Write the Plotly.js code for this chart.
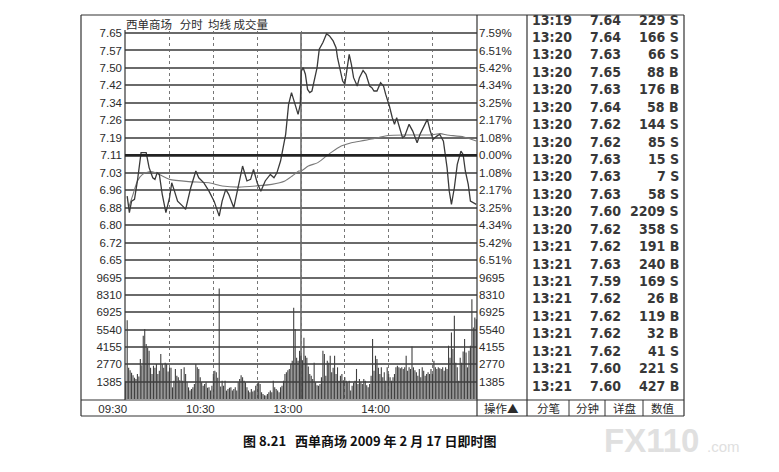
<!DOCTYPE html>
<html>
<head>
<meta charset="utf-8">
<script src="https://cdn.plot.ly/plotly-3.0.1.min.js"></script>
<style>
  html, body { margin: 0; padding: 0; background: #fff; }
  #plot { width: 779px; height: 472px; }
</style>
</head>
<body>
<div id="plot"></div>
<script>
// 西单商场 2009-02-17 分时图
var prevClose = 7.11;
var priceLabels = ['7.65','7.57','7.50','7.42','7.34','7.26','7.19','7.11','7.03','6.96','6.88','6.80','6.72','6.65'];
var pctLabels = ['7.59%','6.51%','5.42%','4.34%','3.25%','2.17%','1.08%','0.00%','1.08%','2.17%','3.25%','4.34%','5.42%','6.51%'];
var volLabels = ['9695','8310','6925','5540','4155','2770','1385'];
var timeLabels = ['09:30','10:30','13:00','14:00'];
var timeTicks = [0,60,120,180];

// minute index (0 = 09:30, 120 = 13:00, 240 = 15:00)
var priceMin = [1,2.5,4,6,8,10.5,14,16,18.5,20,21.5,23,25,27.5,30,31.5,33,35.5,39,41,
  44.5,48,50,53.5,57,60.5,64,66,68.5,70.5,74,80,83,85.5,87.5,90,92.5,95.5,99,101.5,
  103.5,106,109.5,111.5,113.5,116,118,119.5,120.2,121.5,123,124.5,126,127.5,129.5,131,132.5,135,137.5,139.5,
  142,144,145,147,148.5,150,151.5,153,154.5,156,158.5,160,162.5,164.5,167,168.5,170,172,174.5,176.5,
  178,180.5,182.5,184,185.5,187.5,189.5,191,194,196.5,199.5,201.5,204.5,206.5,208.5,210.5,213,215,217.5,220,
  221.5,223,225,227,229.5,231,232.5,234.5,236,238.5,240];
var priceVal = [6.93,6.857,6.908,6.916,6.997,7.122,7.122,7.056,7.011,7.004,7.033,7.026,6.938,6.857,6.923,6.989,6.96,6.908,6.886,6.872,
  6.967,7.041,7.011,6.989,6.952,6.908,6.842,6.908,6.96,6.938,6.879,7.063,6.997,7.004,7.048,6.989,6.952,6.997,7.026,7.011,
  7.033,7.085,7.203,7.335,7.387,7.335,7.291,7.335,7.482,7.497,7.468,7.401,7.387,7.394,7.46,7.497,7.578,7.608,7.647,7.637,
  7.615,7.585,7.541,7.482,7.438,7.424,7.482,7.556,7.512,7.453,7.416,7.453,7.485,7.468,7.416,7.409,7.394,7.394,7.431,7.416,
  7.379,7.328,7.276,7.247,7.276,7.232,7.188,7.195,7.247,7.217,7.166,7.203,7.247,7.269,7.217,7.181,7.195,7.203,7.173,7.056,
  6.952,6.894,6.967,7.07,7.129,7.114,7.041,6.982,6.908,6.901,6.894];

var avgMin = [2,5,8,11.5,16,20.5,25,30,43,57,66,77.5,89,100,109,114,118.5,120.2,125,131.5,
  136,140.5,147.5,154.5,163.5,172.5,179.5,193,209,215.5,220,231.5,240];
var avgVal = [6.879,6.938,6.997,7.026,7.038,7.033,7.019,7.004,6.994,6.989,6.975,6.97,6.975,6.982,6.997,7.019,7.041,7.041,7.063,7.078,
  7.1,7.122,7.151,7.166,7.176,7.188,7.198,7.2,7.2,7.206,7.2,7.191,7.173];

// one bar per minute, 0..240
var volume = [
  1400,6300,2500,2300,2100,1900,1700,1600,2000,1800,
  3200,2700,5050,5600,4400,4100,3850,2500,2000,2660,
  2500,2800,2000,2260,3600,2800,2500,2900,2800,2200,
  2500,2500,930,1460,2400,1860,1730,1500,2400,1460,
  2530,2000,1330,930,670,800,930,1200,2800,2530,
  2400,1730,1330,1060,1200,1330,900,930,670,1060,
  2000,2260,2130,1700,8830,1000,1460,1060,1460,670,
  800,900,930,670,800,930,670,1330,1600,1900,
  1730,1460,1330,930,670,530,800,600,670,1060,
  1200,1330,1200,530,400,300,270,400,530,670,
  530,1460,930,800,670,530,930,1060,1460,2000,
  2130,2300,2400,2800,3060,7300,5600,3300,3060,3850,
  3460,3100,4900,3460,3300,2600,2000,1860,1600,2900,
  1330,1100,1060,1200,1730,3850,3600,1860,3060,2900,
  3460,2130,2500,3460,2000,2530,1460,1860,2000,1500,
  1730,1460,1330,1460,670,1060,1300,1460,2400,1200,
  1600,1330,1200,1600,1460,1100,930,1200,1860,4790,
  2260,3460,3200,2500,2000,2530,1730,2130,1460,2530,
  2000,1730,1460,1730,2000,2530,2660,2530,2450,2530,
  2400,2530,3460,2260,2530,2400,4200,2530,2300,2130,
  1860,2400,1730,2530,2260,1860,2000,2130,2000,2400,
  2000,3060,2530,2400,2530,2450,2400,2530,2260,2530,
  2400,4260,3300,5320,4000,6650,2900,2530,1460,3300,
  2900,3800,4790,3720,2530,3850,4260,7980,5720,6520,
  6380];

// 分笔成交
var tickTimes = ['13:19','13:20','13:20','13:20','13:20','13:20','13:20','13:20','13:20','13:20','13:20',
  '13:20','13:20','13:21','13:21','13:21','13:21','13:21','13:21','13:21','13:21','13:21'];
var tickPrices = ['7.64','7.64','7.63','7.65','7.63','7.64','7.62','7.62','7.63','7.63','7.63',
  '7.60','7.62','7.62','7.63','7.59','7.62','7.62','7.62','7.62','7.60','7.60'];
var tickVols = [229,166,66,88,176,58,144,85,15,7,58,2209,358,191,240,169,26,119,32,41,221,427];
var tickSides = ['S','S','S','B','B','B','S','S','S','S','S','S','S','B','B','S','B','B','B','S','S','B'];
var buttons = ['分笔','分钟','详盘','数值'];

var W = 779, H = 472;
function px(x) { return x / W; }
function py(y) { return 1 - y / H; }

var step = (parseFloat(priceLabels[0]) - prevClose) / 7;
var priceTicks = priceLabels.map(function(s, i) { return prevClose + (7 - i) * step; });
var volTicks = volLabels.map(Number);
// a little headroom so the 7.65 grid line is not clipped at the edge
var priceRange = [priceTicks[priceTicks.length - 1] - step / 2, priceTicks[0] + step * 0.1];
var volRange = [0, volTicks[0] + volTicks[volTicks.length - 1] / 2];

var xGrid = [0,30,60,90,120,150,180,210];
var xText = xGrid.map(function(v) {
  var k = timeTicks.indexOf(v);
  return k >= 0 ? timeLabels[k] : '';
});

var axisFont = {family: 'Liberation Sans, Arial, sans-serif', size: 11.5, color: '#2b2b2b'};
var gridCol = '#6a6a6a';

var tracePrice = {
  type: 'scatter', mode: 'lines', x: priceMin, y: priceVal,
  xaxis: 'x', yaxis: 'y',
  line: {color: '#3a3a3a', width: 1.3},
  hoverinfo: 'skip'
};
var traceAvg = {
  type: 'scatter', mode: 'lines', x: avgMin, y: avgVal,
  xaxis: 'x', yaxis: 'y',
  line: {color: '#7a7a7a', width: 1.1, shape: 'spline', smoothing: 0.6},
  hoverinfo: 'skip'
};
var traceVol = {
  type: 'bar', x: volume.map(function(v, i) { return i; }), y: volume,
  xaxis: 'x', yaxis: 'y2',
  width: 0.75,
  marker: {color: '#404040', line: {width: 0}},
  hoverinfo: 'skip'
};
var dummyPct = {type: 'scatter', x: [], y: [], xaxis: 'x', yaxis: 'y3', hoverinfo: 'skip'};
var dummyVolR = {type: 'scatter', x: [], y: [], xaxis: 'x', yaxis: 'y4', hoverinfo: 'skip'};

var shapes = [];
function line(x0, y0, x1, y1, w, col) {
  shapes.push({type: 'line', xref: 'paper', yref: 'paper',
    x0: px(x0), y0: py(y0), x1: px(x1), y1: py(y1),
    line: {color: col || '#333', width: w || 1}});
}
// frame
line(81, 15, 684, 15, 1.2);
line(81, 416, 684, 416, 1.2);
line(81, 15, 81, 416, 1.2);
line(684, 15, 684, 416, 1.2);
line(477, 15, 477, 416, 1.2);
line(527, 15, 527, 416, 1.2);
line(125, 30, 125, 400, 1.2);
line(81, 400, 684, 400, 1.2);
[569, 605, 643].forEach(function(x) { line(x, 400, x, 416, 1); });
// 0% line and 13:00 divider
shapes.push({type: 'line', xref: 'x', yref: 'y', x0: -0.5, x1: 240.5, y0: prevClose, y1: prevClose,
  line: {color: '#222', width: 2.6}});
shapes.push({type: 'line', xref: 'x', yref: 'paper', x0: 120, x1: 120, y0: py(399), y1: py(32),
  line: {color: '#3a3a3a', width: 1.2}, layer: 'below'});

var annotations = [];
function txt(x, y, s, opt) {
  opt = opt || {};
  annotations.push({xref: 'paper', yref: 'paper', x: px(x), y: py(y), text: s, showarrow: false,
    xanchor: opt.xanchor || 'left', yanchor: 'middle',
    font: {family: opt.family || 'Liberation Sans, Arial, sans-serif', size: opt.size || 12,
      color: opt.color || '#2b2b2b', weight: opt.weight || 400}});
}
txt(124, 24, '西单商场\u00a0\u00a0\u00a0分时\u00a0\u00a0均线 成交量',
  {family: 'Noto Sans CJK SC, sans-serif', size: 11.5});

var tblFont = 'Liberation Sans Narrow, DejaVu Sans Condensed, Liberation Sans, sans-serif';
tickTimes.forEach(function(t, i) {
  var y = 19.5 + i * 17.43;
  txt(530, y, t, {family: tblFont, size: 14, weight: 700, color: '#383838'});
  txt(605, y, tickPrices[i], {family: tblFont, size: 14, weight: 700, color: '#383838', xanchor: 'center'});
  txt(681, y, tickVols[i] + ' ' + tickSides[i], {family: tblFont, size: 14, weight: 700, color: '#383838', xanchor: 'right'});
});
txt(502, 408, '操作▲', {family: 'Noto Sans CJK SC, sans-serif', size: 11.5, xanchor: 'center'});
[548, 587, 624, 663].forEach(function(x, i) {
  txt(x, 408, buttons[i], {family: 'Noto Sans CJK SC, sans-serif', size: 11.5, xanchor: 'center'});
});
txt(369, 440, '图 8.21\u00a0\u00a0\u00a0西单商场 2009 年 2 月 17 日即时图',
  {family: 'Noto Sans CJK SC, sans-serif', size: 13, weight: 700, color: '#111', xanchor: 'center'});
txt(602, 440, 'FX110', {family: 'Liberation Sans, Arial, sans-serif', size: 33, weight: 700, color: '#e0e0e0'});
txt(705, 446, '.com', {family: 'Liberation Sans, Arial, sans-serif', size: 15, color: '#e0e0e0'});

var layout = {
  width: W, height: H,
  margin: {l: 0, r: 0, t: 0, b: 0},
  paper_bgcolor: '#fff', plot_bgcolor: '#fff',
  showlegend: false,
  font: axisFont,
  xaxis: {
    domain: [px(125), px(477)], range: [-0.5, 240.5], anchor: 'y2',
    tickmode: 'array', tickvals: xGrid, ticktext: xText,
    showgrid: true, gridcolor: '#777', griddash: 'dot', gridwidth: 1,
    zeroline: false, showline: false, ticks: '', ticklabelshift: -13, ticklabelstandoff: 1,
    tickfont: axisFont, fixedrange: true
  },
  yaxis: {
    domain: [py(269), py(33 - 0.1 * 17.46)], range: priceRange, anchor: 'x',
    tickmode: 'array', tickvals: priceTicks, ticktext: priceLabels,
    showgrid: true, gridcolor: gridCol, gridwidth: 2,
    zeroline: false, showline: false, ticks: '', ticklabelstandoff: 2, tickfont: axisFont
  },
  yaxis2: {
    domain: [py(399), py(269)], range: volRange, anchor: 'x',
    tickmode: 'array', tickvals: volTicks, ticktext: volLabels,
    showgrid: true, gridcolor: gridCol, gridwidth: 2,
    zeroline: false, showline: false, ticks: '', ticklabelstandoff: 2, tickfont: axisFont
  },
  yaxis3: {
    overlaying: 'y', side: 'right', anchor: 'x', range: priceRange,
    tickmode: 'array', tickvals: priceTicks, ticktext: pctLabels,
    showgrid: false, zeroline: false, showline: false, ticks: '', ticklabelstandoff: 1, tickfont: axisFont
  },
  yaxis4: {
    overlaying: 'y2', side: 'right', anchor: 'x', range: volRange,
    tickmode: 'array', tickvals: volTicks, ticktext: volLabels,
    showgrid: false, zeroline: false, showline: false, ticks: '', ticklabelstandoff: 1, tickfont: axisFont
  },
  shapes: shapes,
  annotations: annotations
};

Plotly.newPlot('plot', [traceVol, traceAvg, tracePrice, dummyPct, dummyVolR], layout,
  {staticPlot: true, displayModeBar: false});
</script>
</body>
</html>
